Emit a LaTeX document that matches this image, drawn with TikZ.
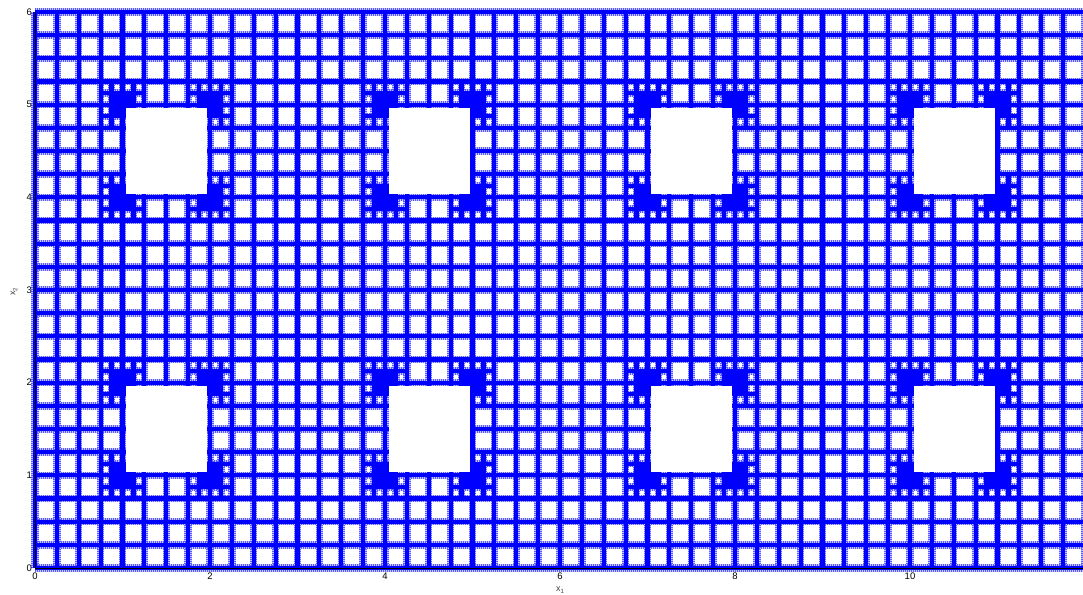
\documentclass[tikz,border=0pt]{standalone}
\usepackage{fontspec}
\setmainfont{Liberation Sans}
\definecolor{meshblue}{RGB}{0,0,255}
\begin{document}
\begin{tikzpicture}[x=87.5pt,y=92.667pt,
  halo/.style={line width=7.4pt, draw=meshblue!22},
  fuzz/.style={line width=7.4pt, draw=meshblue!65, dash pattern=on 1pt off 1pt},
  core/.style={line width=4.2pt, draw=meshblue},
  ticklab/.style={font=\fontsize{9.5}{11}\selectfont, inner sep=0pt},
  axlab/.style={font=\fontsize{9}{11}\selectfont, inner sep=0pt, text=black!75}]
\useasboundingbox (-35pt,-26pt) rectangle (1048pt,568pt);
\clip (-35pt,-26pt) rectangle (1048pt,568pt);
% mesh lines in three layers
\foreach \sty in {halo,fuzz,core}{
  \draw[\sty]
    \foreach \i in {0,...,48}{(\i/4,0) -- (\i/4,6)}
    \foreach \j in {0,...,24}{(0,\j/4) -- (12,\j/4)}
    \foreach \cx in {1,2,4,5,7,8,10,11}{\foreach \cy in {1,2,4,5}{
      (\cx-0.125,\cy-0.25) -- (\cx-0.125,\cy+0.25)
      (\cx+0.125,\cy-0.25) -- (\cx+0.125,\cy+0.25)
      (\cx-0.25,\cy-0.125) -- (\cx+0.25,\cy-0.125)
      (\cx-0.25,\cy+0.125) -- (\cx+0.25,\cy+0.125)}};
}
% densely refined cells at hole corners
\foreach \cx in {1,2,4,5,7,8,10,11}{\foreach \cy in {1,2,4,5}{
  \fill[meshblue] ([xshift=-2pt,yshift=-2pt]\cx-0.125,\cy-0.125) rectangle ([xshift=2pt,yshift=2pt]\cx+0.125,\cy+0.125);
}}
% holes
\foreach \a in {1,4,7,10}{\foreach \b in {1,4}{
  \fill[white] ([xshift=3.5pt,yshift=3.5pt]\a,\b) rectangle ([xshift=-3pt,yshift=-3pt]\a+1,\b+1);
}}
% axes
\coordinate (top) at (0,6);
\coordinate (orig) at (0,0);
\coordinate (right) at (12,0);
\draw[black, line width=0.9pt] (top) -- (orig) -- (right);
% tick labels
\foreach \v in {0,2,4,6,8,10}{
  \node[ticklab, anchor=north] (xt\v) at ([yshift=-4.5pt]\v,0) {\v};
}
\foreach \v in {0,...,6}{
  \node[ticklab, anchor=east] (yt\v) at ([xshift=-3pt]0,\v) {\v};
}
\node[axlab] (xlab) at ([yshift=-22pt]6,0) {x\raisebox{-0.45ex}{\fontsize{6}{7}\selectfont 1}};
\node[axlab, rotate=90] (ylab) at ([xshift=-21pt]0,2.98) {x\raisebox{-0.45ex}{\fontsize{6}{7}\selectfont 2}};
\end{tikzpicture}
\end{document}
